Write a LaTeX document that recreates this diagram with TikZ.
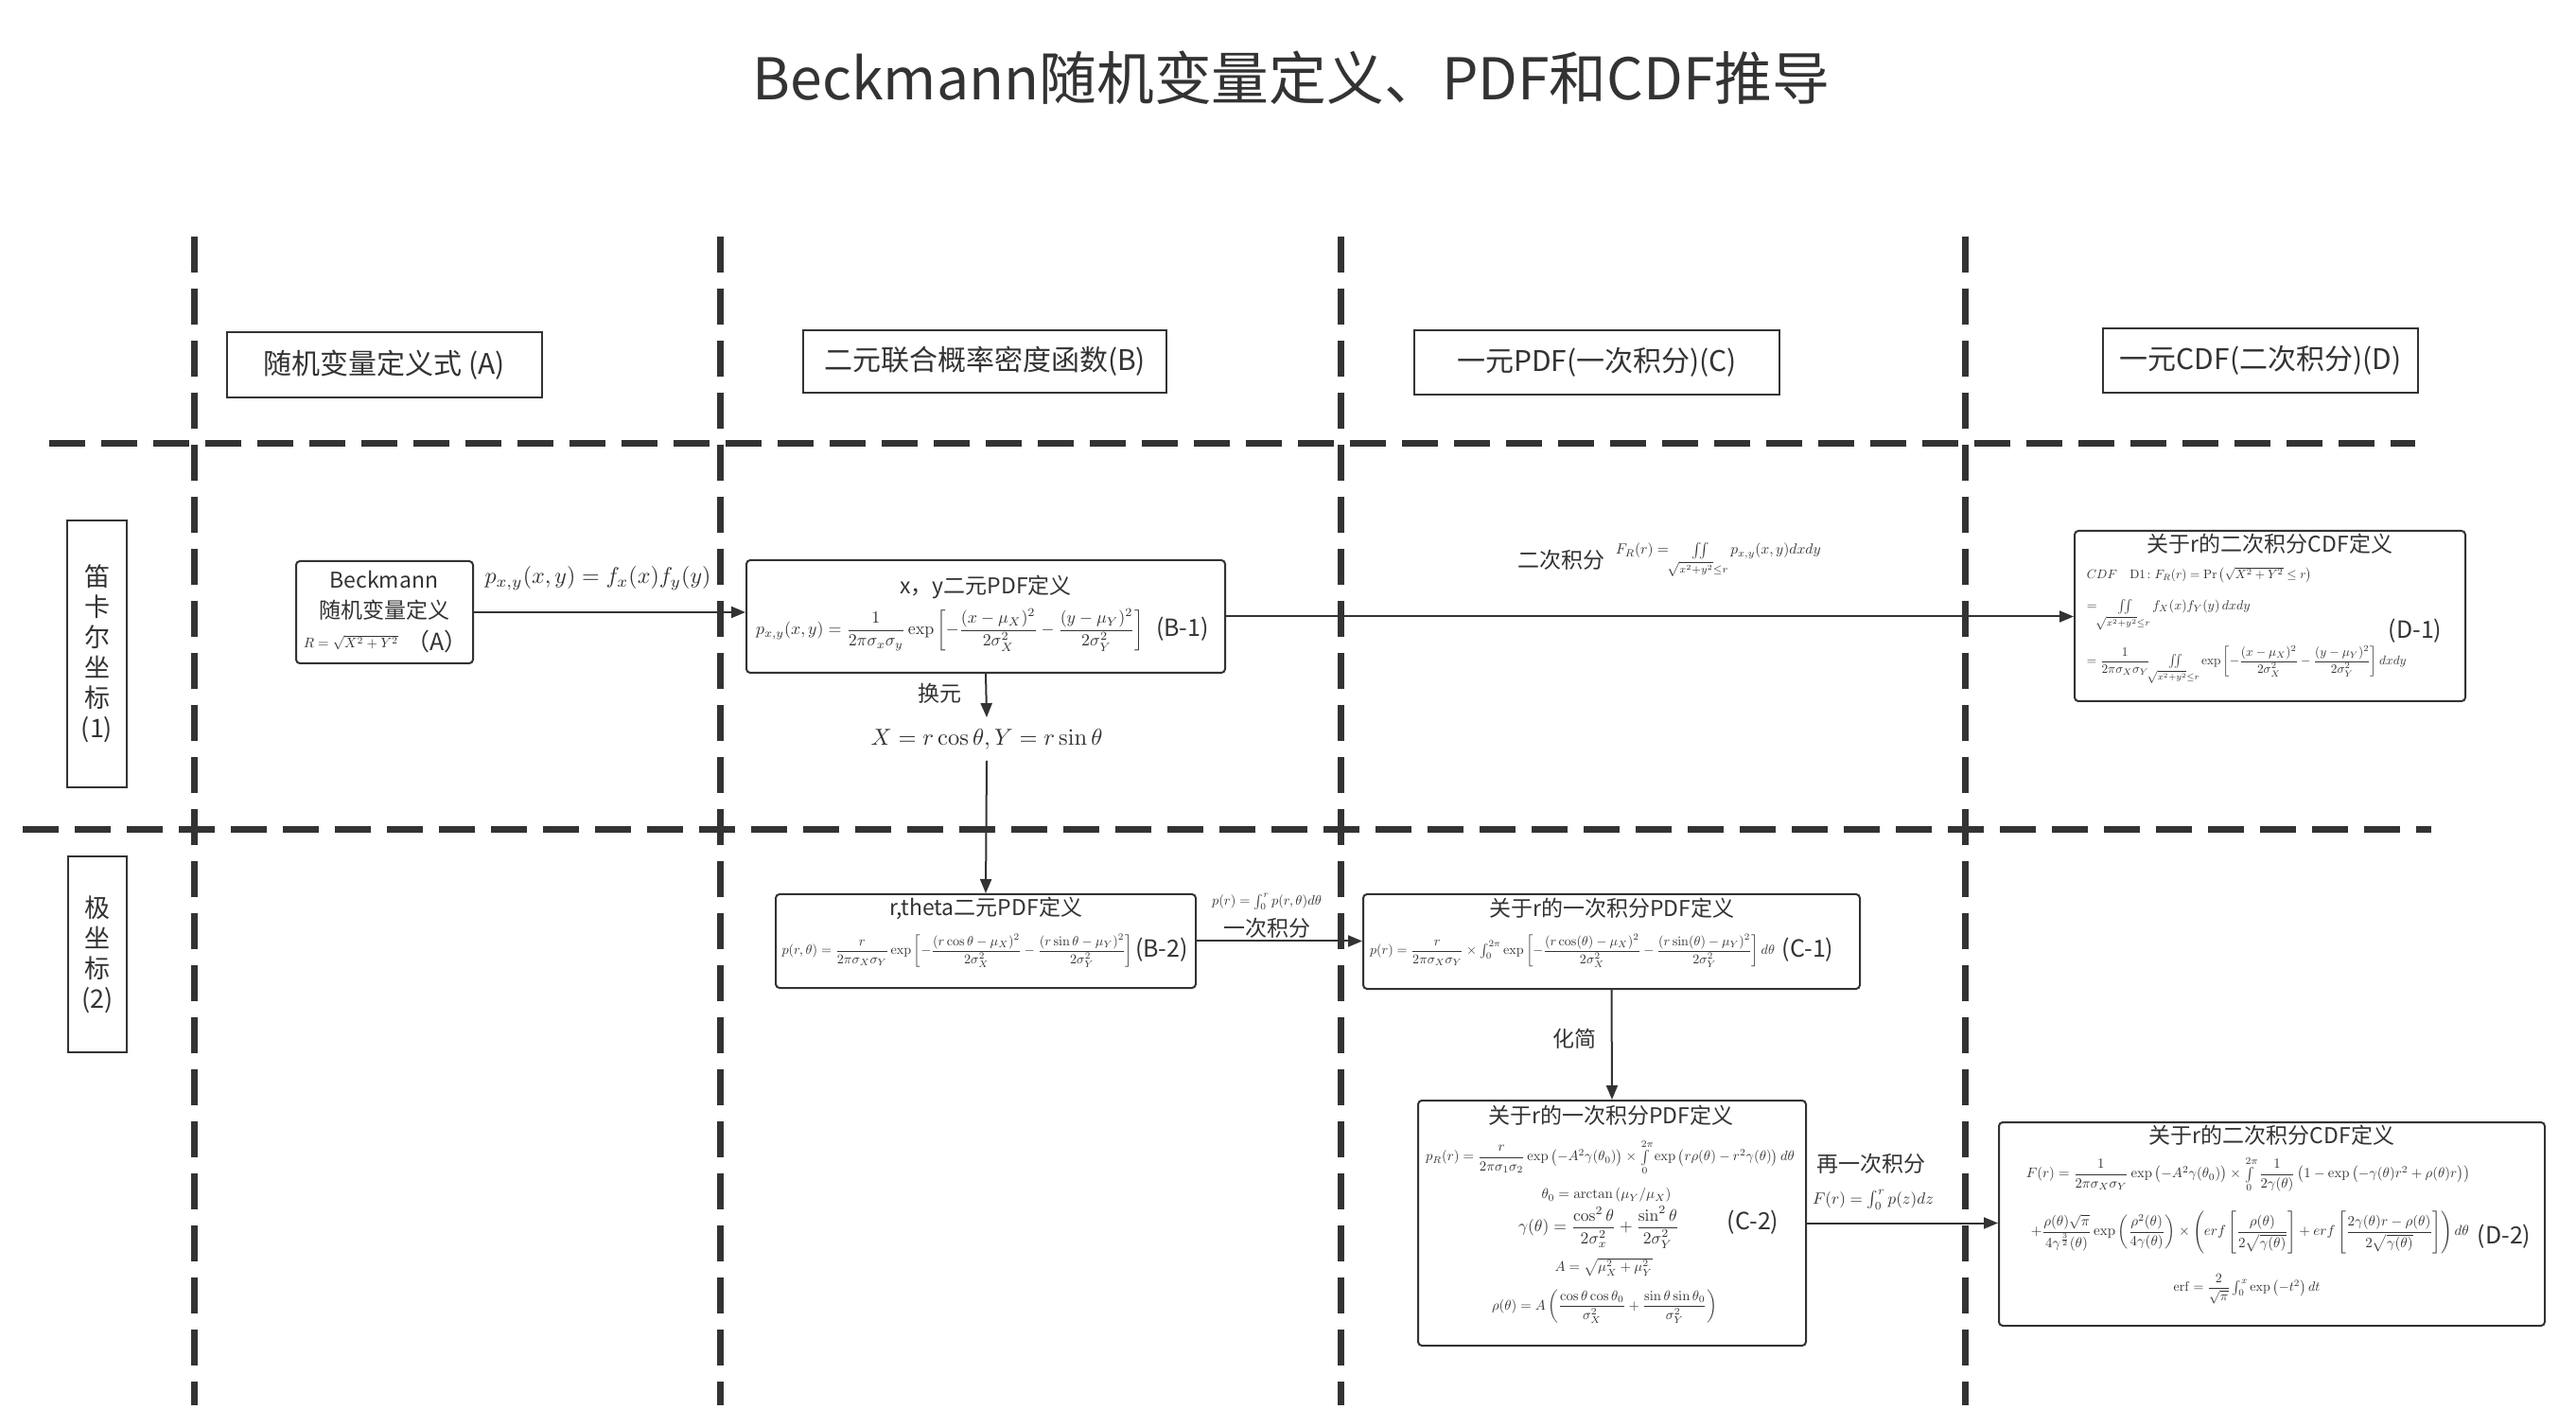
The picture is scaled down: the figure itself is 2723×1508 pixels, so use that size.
\documentclass[tikz,border=0pt]{standalone}
\usepackage[no-math]{fontspec}
\setmainfont{Noto Sans CJK SC}
\usepackage{amsmath,amssymb,graphicx}
\usetikzlibrary{arrows.meta}
\newlength\pxu \setlength\pxu{0.25pt}
\newcommand{\fitw}[2]{\resizebox{#1\pxu}{!}{#2}}
\definecolor{ink}{HTML}{333333}
\begin{document}
\begin{tikzpicture}[x=0.25pt,y=-0.25pt,
  every node/.style={text=ink, inner sep=0pt},
  box/.style={draw=ink, line width=0.5pt, rounded corners=1pt},
  hdr/.style={draw=ink, line width=0.45pt, font=\fontsize{7.5}{9}\selectfont},
  lane/.style={draw=ink, line width=1.75pt, dash pattern=on 9.5pt off 4.25pt},
  arr/.style={draw=ink, line width=0.5pt, -{Triangle[length=3.75pt,width=3pt]}},
  txt/.style={font=\fontsize{5.75}{7}\selectfont},
  tag/.style={font=\fontsize{6.25}{7.5}\selectfont},
]
\useasboundingbox (0,0) rectangle (2723,1508);
\fill[white] (0,0) rectangle (2723,1508);

% title
\node (title) at (1365,82) {\fontsize{15.2}{18}\selectfont Beckmann随机变量定义、PDF和CDF推导};

% swimlane dashed lines
\draw[lane] (205,250) -- (205,1485);
\draw[lane] (761,250) -- (761,1485);
\draw[lane] (1417,250) -- (1417,1485);
\draw[lane] (2077,250) -- (2077,1485);
\draw[lane] (52,469) -- (2553,469);
\draw[lane] (24,877) -- (2570,877);

% column headers
\node[hdr, minimum width=333\pxu, minimum height=69\pxu] (hA) at (406.5,385.5) {随机变量定义式 (A)};
\node[hdr, minimum width=384\pxu, minimum height=66\pxu] (hB) at (1041,382) {二元联合概率密度函数(B)};
\node[hdr, minimum width=386\pxu, minimum height=68\pxu] (hC) at (1688,383) {一元PDF(一次积分)(C)};
\node[hdr, minimum width=333\pxu, minimum height=68\pxu] (hD) at (2389.5,381) {一元CDF(二次积分)(D)};

% row headers
\node[hdr, minimum width=63\pxu, minimum height=282\pxu, align=center, font=\fontsize{6.75}{8}\selectfont] (r1) at (102.5,691) {笛\\卡\\尔\\坐\\标\\(1)};
\node[hdr, minimum width=62\pxu, minimum height=207\pxu, align=center, font=\fontsize{6.75}{8}\selectfont] (r2) at (103,1008.5) {极\\坐\\标\\(2)};

% A
\node[box, minimum width=187\pxu, minimum height=108\pxu] (A) at (406.5,647) {};
\node[txt] (A1) at (406,612) {Beckmann};
\node[txt] (A2) at (406,645) {随机变量定义};
\node[anchor=west] (A3) at (320,679) {\fitw{100}{$R=\sqrt{X^2+Y^2}$}};
\node[tag] (A4) at (462,678) {（A）};

% B1
\node[box, minimum width=506\pxu, minimum height=119\pxu] (B1) at (1042,651.5) {};
\node[txt] (B1t) at (1042,620) {x，y二元PDF定义};
\node (B1f) at (1004,666) {\fitw{410}{$p_{x,y}(x,y)=\dfrac{1}{2\pi\sigma_x\sigma_y}\exp\left[-\dfrac{(x-\mu_X)^2}{2\sigma_X^2}-\dfrac{(y-\mu_Y)^2}{2\sigma_Y^2}\right]$}};
\node[tag] (B1g) at (1250,665) {(B-1)};

% substitution
\node[txt] (sub) at (993,733) {换元};
\node[outer ysep=3pt] (XY) at (1043,781) {\fitw{245}{$X=r\cos\theta,Y=r\sin\theta$}};

% B2
\node[box, minimum width=444\pxu, minimum height=99\pxu] (B2) at (1042,994.5) {};
\node[txt] (B2t) at (1042,960) {r,theta二元PDF定义};
\node (B2f) at (1012,1005) {\fitw{371}{$p(r,\theta)=\dfrac{r}{2\pi\sigma_X\sigma_Y}\exp\left[-\dfrac{(r\cos\theta-\mu_X)^2}{2\sigma_X^2}-\dfrac{(r\sin\theta-\mu_Y)^2}{2\sigma_Y^2}\right]$}};
\node[tag] (B2g) at (1228,1004) {(B-2)};

% C1
\node[box, minimum width=525\pxu, minimum height=100\pxu] (C1) at (1703.5,995) {};
\node[txt] (C1t) at (1704,960) {关于r的一次积分PDF定义};
\node (C1f) at (1662,1005) {\fitw{428}{$p(r)=\dfrac{r}{2\pi\sigma_X\sigma_Y}\times\int_0^{2\pi}\exp\left[-\dfrac{(r\cos(\theta)-\mu_X)^2}{2\sigma_X^2}-\dfrac{(r\sin(\theta)-\mu_Y)^2}{2\sigma_Y^2}\right]d\theta$}};
\node[tag] (C1g) at (1911,1004) {(C-1)};

% C2
\node[box, minimum width=410\pxu, minimum height=259\pxu] (C2) at (1704,1292.5) {};
\node[txt] (C2t) at (1703,1179) {关于r的一次积分PDF定义};
\node (C2a) at (1702,1223) {\fitw{390}{$p_R(r)=\dfrac{r}{2\pi\sigma_1\sigma_2}\exp\left(-A^2\gamma(\theta_0)\right)\times\int\limits_0^{2\pi}\exp\left(r\rho(\theta)-r^2\gamma(\theta)\right)d\theta$}};
\node (C2b) at (1698,1263) {\fitw{137}{$\theta_0=\arctan\left(\mu_Y/\mu_X\right)$}};
\node (C2c) at (1690,1297) {\fitw{170}{$\gamma(\theta)=\dfrac{\cos^2\theta}{2\sigma_x^2}+\dfrac{\sin^2\theta}{2\sigma_Y^2}$}};
\node (C2d) at (1695,1339) {\fitw{103}{$A=\sqrt{\mu_X^2+\mu_Y^2}$}};
\node (C2e) at (1696,1381) {\fitw{238}{$\rho(\theta)=A\left(\dfrac{\cos\theta\cos\theta_0}{\sigma_X^2}+\dfrac{\sin\theta\sin\theta_0}{\sigma_Y^2}\right)$}};
\node[tag] (C2g) at (1853,1292) {(C-2)};

% D1
\node[box, minimum width=413\pxu, minimum height=180\pxu] (D1) at (2399.5,651) {};
\node[txt] (D1t) at (2399.5,575) {关于r的二次积分CDF定义};
\node[anchor=west] (D1a) at (2205,608) {\fitw{238}{$CDF\quad\mathrm{D1}\colon F_R(r)=\Pr\left(\sqrt{X^2+Y^2}\le r\right)$}};
\node[anchor=west] (D1b) at (2205,650) {\fitw{173}{$=\iint\limits_{\sqrt{x^2+y^2}\le r} f_X(x)f_Y(y)\,dxdy$}};
\node[anchor=west] (D1c) at (2205,703) {\fitw{338}{$=\dfrac{1}{2\pi\sigma_X\sigma_Y}\iint\limits_{\sqrt{x^2+y^2}\le r}\exp\left[-\dfrac{(x-\mu_X)^2}{2\sigma_X^2}-\dfrac{(y-\mu_Y)^2}{2\sigma_Y^2}\right]dxdy$}};
\node[tag] (D1g) at (2553,667) {(D-1)};

% D2
\node[box, minimum width=577\pxu, minimum height=215\pxu] (D2) at (2401.5,1293.5) {};
\node[txt] (D2t) at (2401.5,1200) {关于r的二次积分CDF定义};
\node[anchor=west] (D2a) at (2141,1241) {\fitw{469}{$F(r)=\dfrac{1}{2\pi\sigma_X\sigma_Y}\exp\left(-A^2\gamma(\theta_0)\right)\times\int\limits_0^{2\pi}\dfrac{1}{2\gamma(\theta)}\left(1-\exp\left(-\gamma(\theta)r^2+\rho(\theta)r\right)\right)$}};
\node[anchor=west] (D2b) at (2146,1302) {\fitw{463}{$+\dfrac{\rho(\theta)\sqrt{\pi}}{4\gamma^{\frac{3}{2}}(\theta)}\exp\left(\dfrac{\rho^2(\theta)}{4\gamma(\theta)}\right)\times\left(erf\left[\dfrac{\rho(\theta)}{2\sqrt{\gamma(\theta)}}\right]+erf\left[\dfrac{2\gamma(\theta)r-\rho(\theta)}{2\sqrt{\gamma(\theta)}}\right]\right)d\theta$}};
\node (D2c) at (2375,1362) {\fitw{155}{$\mathrm{erf}=\dfrac{2}{\sqrt{\pi}}\int_0^x\exp\left(-t^2\right)dt$}};
\node[tag] (D2g) at (2647,1307) {(D-2)};

% edge labels
\node (eAB) at (632,611) {\fitw{239}{$p_{x,y}(x,y)=f_x(x)f_y(y)$}};
\node[txt] (eBD1) at (1650,592) {二次积分};
\node[anchor=west] (eBD2) at (1707,592) {\fitw{217}{$F_R(r)=\iint\limits_{\sqrt{x^2+y^2}\le r}p_{x,y}(x,y)dxdy$}};
\node (eBC1) at (1339,953) {\fitw{116}{$p(r)=\int_0^r p(r,\theta)d\theta$}};
\node[txt] (eBC2) at (1339,981) {一次积分};
\node[txt] (eCC) at (1664,1098) {化简};
\node[txt] (eCD1) at (1978,1230) {再一次积分};
\node (eCD2) at (1980,1268) {\fitw{128}{$F(r)=\int_0^r p(z)dz$}};

% connectors
\draw[arr] (A.east) -- (A.east -| B1.west);
\draw[arr] (B1.east) -- (B1.east -| D1.west);
\draw[arr] (B1.south) -- (XY.north);
\draw[arr] (XY.south) -- (B2.north);
\draw[arr] (B2.east) -- (B2.east -| C1.west);
\draw[arr] (C1.south) -- (C2.north);
\draw[arr] (C2.east) -- (C2.east -| D2.west);
\end{tikzpicture}
\end{document}
